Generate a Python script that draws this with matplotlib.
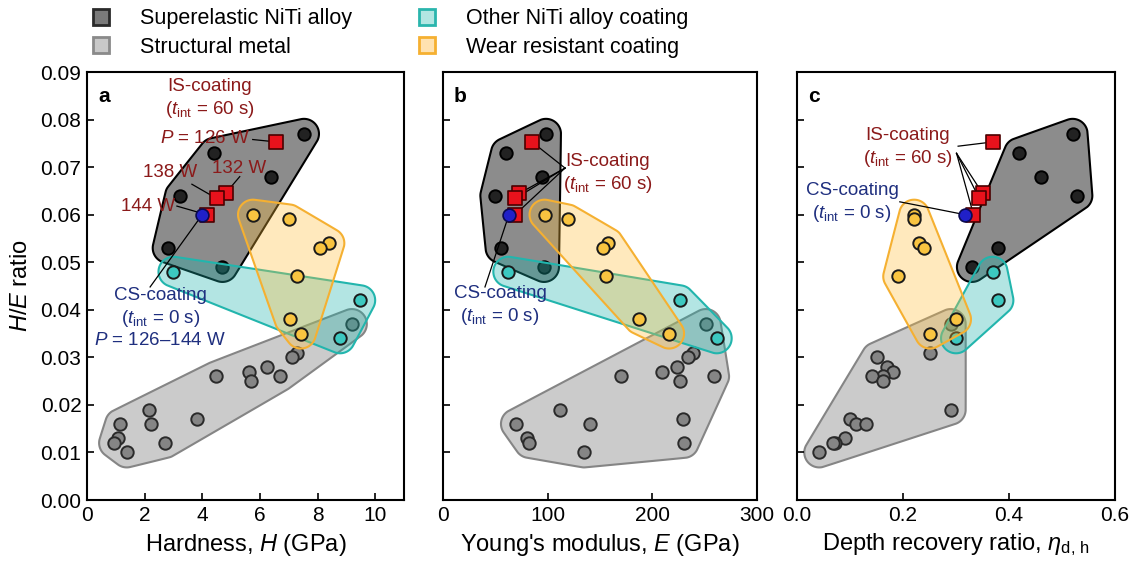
import numpy as np
import matplotlib
matplotlib.use("Agg")
import matplotlib.pyplot as plt
from matplotlib.patches import Polygon
from matplotlib.lines import Line2D

plt.rcParams['font.family'] = ['Liberation Sans', 'DejaVu Sans']
plt.rcParams['mathtext.fontset'] = 'custom'
plt.rcParams['mathtext.rm'] = 'Liberation Sans'
plt.rcParams['mathtext.it'] = 'Liberation Sans:italic'
plt.rcParams['mathtext.bf'] = 'Liberation Sans:bold'

# ---------------- data (H/E ratio on y, shared across panels) ----------------
struct_y = [0.037, 0.031, 0.030, 0.028, 0.027, 0.026, 0.026, 0.025,
            0.019, 0.017, 0.016, 0.016, 0.013, 0.012, 0.012, 0.010]
struct_H = [9.19, 7.28, 7.11, 6.26, 5.63, 6.70, 4.48, 5.69,
            2.15, 3.83, 2.22, 1.15, 1.09, 0.94, 2.72, 1.38]
struct_E = [251, 238.5, 234, 224, 209, 259, 170, 226,
            112, 229.6, 140, 69.7, 80.5, 82.5, 230, 134.7]
struct_eta = [0.290, 0.251, 0.150, 0.170, 0.182, 0.162, 0.141, 0.162,
              0.290, 0.100, 0.111, 0.131, 0.091, 0.072, 0.068, 0.042]

niti_y = [0.077, 0.073, 0.068, 0.064, 0.053, 0.049]
niti_H = [7.53, 4.41, 6.39, 3.23, 2.80, 4.70]
niti_E = [98.4, 60.2, 94.3, 50, 55, 96.5]
niti_eta = [0.520, 0.419, 0.460, 0.529, 0.380, 0.330]

wear_y = [0.060, 0.059, 0.054, 0.053, 0.047, 0.038, 0.035]
wear_H = [5.76, 7.01, 8.41, 8.07, 7.30, 7.03, 7.42]
wear_E = [97, 119, 158, 152.5, 156, 187.6, 216]
wear_eta = [0.221, 0.221, 0.231, 0.240, 0.191, 0.300, 0.251]

other_y = [0.048, 0.042, 0.034]
other_H = [3.0, 9.48, 8.78]
other_E = [62.4, 226, 261.5]
other_eta = [0.369, 0.380, 0.300]

is_y = [0.0753, 0.0645, 0.0634, 0.0600]
is_H = [6.56, 4.81, 4.50, 4.15]
is_E = [85, 73, 69, 68.8]
is_eta = [0.370, 0.350, 0.344, 0.333]
is_P = ['126 W', '132 W', '138 W', '144 W']

cs_y = [0.0600]
cs_H = [4.0]
cs_E = [63]
cs_eta = [0.317]

legend_labels = ['Superelastic NiTi alloy', 'Structural metal',
                 'Other NiTi alloy coating', 'Wear resistant coating']

# ---------------- styles ----------------
IS_COL = '#8B1A1A'
CS_COL = '#1F2F7F'

groups = {
    'struct': dict(hull_fc=(0.55, 0.55, 0.55, 0.45), hull_ec='#858585',
                   pt_fc='#858585', pt_ec='#2a2a2a', z=1),
    'niti': dict(hull_fc=(0.25, 0.25, 0.25, 0.6), hull_ec='black',
                 pt_fc='#222222', pt_ec='black', z=3),
    'other': dict(hull_fc=(0.10, 0.70, 0.67, 0.33), hull_ec='#22b5ad',
                  pt_fc='#3cc8c0', pt_ec='#1a1a1a', z=5),
    'wear': dict(hull_fc=(1.0, 0.74, 0.22, 0.33), hull_ec='#f5b031',
                 pt_fc='#f9c440', pt_ec='#1a1a1a', z=7),
}

W, H = 1134, 564
fig = plt.figure(figsize=(W / 100, H / 100), dpi=100)


def ax_at(l, r, t=72, b=500):
    return fig.add_axes([l / W, 1 - b / H, (r - l) / W, (b - t) / H])


ax_a = ax_at(87, 404)
ax_b = ax_at(443, 757)
ax_c = ax_at(797, 1115)

ax_a.set_xlim(0, 11)
ax_b.set_xlim(0, 300)
ax_c.set_xlim(0, 0.6)
for ax in (ax_a, ax_b, ax_c):
    ax.set_ylim(0, 0.09)


def convex_hull(p):
    p = sorted(map(tuple, p))
    def cross(o, a, b):
        return (a[0]-o[0])*(b[1]-o[1]) - (a[1]-o[1])*(b[0]-o[0])
    lower, upper = [], []
    for q in p:
        while len(lower) >= 2 and cross(lower[-2], lower[-1], q) <= 0:
            lower.pop()
        lower.append(q)
    for q in reversed(p):
        while len(upper) >= 2 and cross(upper[-2], upper[-1], q) <= 0:
            upper.pop()
        upper.append(q)
    return np.array(lower[:-1] + upper[:-1])


def chaikin(poly, it=3):
    for _ in range(it):
        nxt = np.roll(poly, -1, axis=0)
        q = 0.75 * poly + 0.25 * nxt
        r = 0.25 * poly + 0.75 * nxt
        poly = np.empty((2 * len(poly), 2))
        poly[0::2] = q
        poly[1::2] = r
    return poly


def hull(ax, xs, ys, st, pad=15):
    pts = ax.transData.transform(np.column_stack([xs, ys]))
    ang = np.linspace(0, 2 * np.pi, 48, endpoint=False)
    circ = pad * np.column_stack([np.cos(ang), np.sin(ang)])
    allp = (pts[:, None, :] + circ[None, :, :]).reshape(-1, 2)
    hp = chaikin(convex_hull(allp), 3)
    data = ax.transData.inverted().transform(hp)
    ax.add_patch(Polygon(data, closed=True, fc=st['hull_fc'], ec=st['hull_ec'],
                         lw=1.5, zorder=st['z'], joinstyle='round'))


def group(ax, key, xs, ys):
    st = groups[key]
    hull(ax, xs, ys, st)
    ax.scatter(xs, ys, s=80, c=st['pt_fc'], edgecolors=st['pt_ec'],
               linewidths=1.4, zorder=st['z'] + 1)


panels = [
    (ax_a, struct_H, niti_H, other_H, wear_H, is_H, cs_H),
    (ax_b, struct_E, niti_E, other_E, wear_E, is_E, cs_E),
    (ax_c, struct_eta, niti_eta, other_eta, wear_eta, is_eta, cs_eta),
]
for ax, sx, nx, ox, wx, ix, cx in panels:
    group(ax, 'struct', sx, struct_y)
    group(ax, 'niti', nx, niti_y)
    group(ax, 'other', ox, other_y)
    group(ax, 'wear', wx, wear_y)
    ax.scatter(ix, is_y, s=95, marker='s', c='#e8121c', edgecolors='#4a0000',
               linewidths=1.2, zorder=11)
    ax.scatter(cx, cs_y, s=85, marker='o', c='#2020c8', edgecolors='#0a0a50',
               linewidths=1.2, zorder=12)
    ax.tick_params(direction='in', length=5, width=1.2, labelsize=15,
                   top=False, right=False, pad=4)
    for sp in ax.spines.values():
        sp.set_linewidth(1.5)

ax_a.set_xticks([0, 2, 4, 6, 8, 10])
ax_b.set_xticks([0, 100, 200, 300])
ax_c.set_xticks([0, 0.2, 0.4, 0.6])
ax_c.set_xticklabels(['0.0', '0.2', '0.4', '0.6'])
ax_a.set_yticks(np.arange(0, 0.0901, 0.01))
ax_a.set_yticklabels(['%.2f' % v for v in np.arange(0, 0.0901, 0.01)])
for ax in (ax_b, ax_c):
    ax.set_yticks(np.arange(0, 0.0901, 0.01))
    ax.set_yticklabels([])

ax_a.set_xlabel('Hardness, $H$ (GPa)', fontsize=17, labelpad=5)
ax_b.set_xlabel("Young's modulus, $E$ (GPa)", fontsize=17, labelpad=5)
ax_c.set_xlabel(r'Depth recovery ratio, $\eta_{\mathrm{d,\,h}}$', fontsize=17, labelpad=5)
ax_a.set_ylabel('$H$/$E$ ratio', fontsize=17, labelpad=6)

for ax, lab in zip((ax_a, ax_b, ax_c), 'abc'):
    ax.text(0.035, 0.965, lab, transform=ax.transAxes, fontsize=15,
            fontweight='bold', va='top', ha='left')

lw_ann = 0.9
AFS = 13.5
# ---------- panel a annotations ----------
ax_a.text(4.25, 0.0843, 'IS-coating\n($t_{\\mathrm{int}}$ = 60 s)', color=IS_COL,
          fontsize=AFS, ha='center', va='center', linespacing=1.25, zorder=13)
ax_a.text(5.67, 0.0761, '$P$ = ' + is_P[0], color=IS_COL, fontsize=AFS,
          ha='right', va='center', zorder=13)
ax_a.plot([5.75, is_H[0]], [0.0758, is_y[0]], color='black', lw=lw_ann, zorder=10)
ax_a.text(5.29, 0.0698, is_P[1], color=IS_COL, fontsize=AFS, ha='center', va='center', zorder=13)
ax_a.plot([5.30, is_H[1]], [0.0680, is_y[1]], color='black', lw=lw_ann, zorder=10)
ax_a.text(2.89, 0.0688, is_P[2], color=IS_COL, fontsize=AFS, ha='center', va='center', zorder=13)
ax_a.plot([3.64, is_H[2]], [0.0664, is_y[2]], color='black', lw=lw_ann, zorder=10)
ax_a.text(2.12, 0.0617, is_P[3], color=IS_COL, fontsize=AFS, ha='center', va='center', zorder=13)
ax_a.plot([3.12, is_H[3]], [0.0618, is_y[3]], color='black', lw=lw_ann, zorder=10)
ax_a.text(2.54, 0.0383, 'CS-coating\n($t_{\\mathrm{int}}$ = 0 s)\n$P$ = 126–144 W',
          color=CS_COL, fontsize=AFS, ha='center', va='center', linespacing=1.25, zorder=13)
ax_a.plot([2.19, cs_H[0]], [0.0448, cs_y[0]], color='black', lw=lw_ann, zorder=10)

# ---------- panel b annotations ----------
ax_b.text(157.6, 0.0685, 'IS-coating\n($t_{\\mathrm{int}}$ = 60 s)', color=IS_COL,
          fontsize=AFS, ha='center', va='center', linespacing=1.25, zorder=13)
for xx, yy in zip(is_E, is_y):
    ax_b.plot([116.6, xx], [0.0698, yy], color='black', lw=lw_ann, zorder=10)
ax_b.text(54.5, 0.0408, 'CS-coating\n($t_{\\mathrm{int}}$ = 0 s)', color=CS_COL,
          fontsize=AFS, ha='center', va='center', linespacing=1.25, zorder=13)
ax_b.plot([40.1, cs_E[0]], [0.0448, cs_y[0]], color='black', lw=lw_ann, zorder=10)

# ---------- panel c annotations ----------
ax_c.text(0.209, 0.0740, 'IS-coating\n($t_{\\mathrm{int}}$ = 60 s)', color=IS_COL,
          fontsize=AFS, ha='center', va='center', linespacing=1.25, zorder=13)
ax_c.plot([0.304, is_eta[0]], [0.0744, is_y[0]], color='black', lw=lw_ann, zorder=10)
for xx, yy in zip(is_eta[1:], is_y[1:]):
    ax_c.plot([0.301, xx], [0.0729, yy], color='black', lw=lw_ann, zorder=10)
ax_c.text(0.104, 0.0624, 'CS-coating\n($t_{\\mathrm{int}}$ = 0 s)', color=CS_COL,
          fontsize=AFS, ha='center', va='center', linespacing=1.25, zorder=13)
ax_c.plot([0.194, cs_eta[0]], [0.0627, cs_y[0]], color='black', lw=lw_ann, zorder=10)

# ---------- legend ----------
handles = [
    Line2D([], [], ls='', marker='s', markersize=12, mfc='#7a7a7a', mec='#2a2a2a', mew=2),
    Line2D([], [], ls='', marker='s', markersize=12, mfc='#c8c8c8', mec='#8a8a8a', mew=2),
    Line2D([], [], ls='', marker='s', markersize=12, mfc='#b2e6e2', mec='#2ab5ad', mew=2),
    Line2D([], [], ls='', marker='s', markersize=12, mfc='#ffe2b0', mec='#f5b031', mew=2),
]
fig.legend(handles, legend_labels, ncol=2, loc='center',
           bbox_to_anchor=(384 / W, 1 - 33 / H), frameon=False, fontsize=15.5,
           handletextpad=0.8, columnspacing=2.5, labelspacing=0.35, borderpad=0)

fig.savefig('out.png', dpi=100)
